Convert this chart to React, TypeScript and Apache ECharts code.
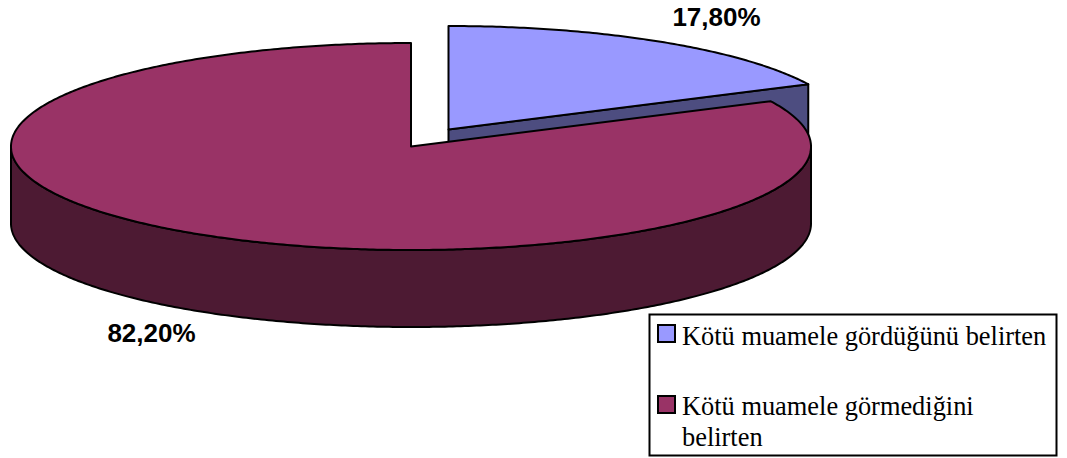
import React, { useEffect, useRef } from "react";
import * as echarts from "echarts";

const sliceNames = ["Kötü muamele gördüğünü belirten", "Kötü muamele görmediğini\nbelirten"];
const sliceValues = [17.8, 82.2];
const sliceLabels = ["17,80%", "82,20%"];
const topColors = ["#9999FF", "#993366"];
const sideColors = ["#4D4D80", "#4D1A33"];

const CX = 411, CY = 146.5, RX = 400, RY = 103.5, DEPTH = 77;
const OFFSETS = [[37.5, -17], [0, 0]];
const LABEL_POS = [[716.5, 17], [151.5, 333]];
const TOTAL = sliceValues.reduce((a, b) => a + b, 0);

// Angles are measured clockwise from the top of the pie.
function rim(cx: number, cy: number, from: number, to: number) {
  const pts: number[][] = [];
  const n = Math.max(2, Math.ceil(Math.abs(to - from) / 0.01));
  for (let i = 0; i <= n; i++) {
    const t = from + ((to - from) * i) / n;
    pts.push([cx + RX * Math.sin(t), cy - RY * Math.cos(t)]);
  }
  return pts;
}

function renderItem(params: any, api: any) {
  const i = params.dataIndex;
  let before = 0;
  for (let k = 0; k < i; k++) before += sliceValues[k];
  const start = (before / TOTAL) * Math.PI * 2;
  const end = ((before + api.value(0)) / TOTAL) * Math.PI * 2;
  const cx = CX + OFFSETS[i][0];
  const cy = CY + OFFSETS[i][1];
  const line = { stroke: "#000", lineWidth: 2, lineJoin: "round" };
  const children: any[] = [];

  // Cut face that shows in front of the slice (only where it faces the viewer).
  if (end < Math.PI / 2 + 0.001) {
    const e = rim(cx, cy, end, end)[0];
    children.push({
      type: "polygon",
      shape: { points: [[cx, cy], e, [e[0], e[1] + DEPTH], [cx, cy + DEPTH]] },
      style: { fill: sideColors[i], ...line },
    });
  }
  // Front wall: the part of the rim between the right and left extremes.
  const a = Math.max(start, Math.PI / 2);
  const b = Math.min(end, (Math.PI * 3) / 2);
  if (b > a) {
    const top = rim(cx, cy, a, b);
    const bottom = top.map((p) => [p[0], p[1] + DEPTH]).reverse();
    children.push({
      type: "polygon",
      shape: { points: [...top, ...bottom] },
      style: { fill: sideColors[i], ...line },
    });
  }
  // Top face.
  children.push({
    type: "polygon",
    shape: { points: [[cx, cy], ...rim(cx, cy, start, end)] },
    style: { fill: topColors[i], ...line },
  });
  return { type: "group", children };
}

export default function App() {
  const ref = useRef<HTMLDivElement>(null);
  useEffect(() => {
    const chart = echarts.init(ref.current!, null, { renderer: "svg" });
    const legendFont = '26.4px "Liberation Serif"';
    const legendSwatches = [325, 396];
    const legendTextTops = [320, 390];
    chart.setOption({
      animation: false,
      backgroundColor: "#fff",
      series: [
        {
          type: "custom",
          coordinateSystem: "none",
          renderItem,
          silent: true,
          clip: false,
          data: sliceValues.map((v, i) => ({ name: sliceNames[i], value: [v] })),
        },
      ],
      graphic: [
        ...sliceLabels.map((t, i) => ({
          type: "text",
          x: LABEL_POS[i][0],
          y: LABEL_POS[i][1],
          style: {
            text: t,
            font: 'bold 26px "Liberation Sans"',
            fill: "#000",
            align: "center",
            verticalAlign: "middle",
          },
        })),
        {
          type: "rect",
          shape: { x: 649.5, y: 314.5, width: 407, height: 141 },
          style: { fill: "#fff", stroke: "#000", lineWidth: 2 },
        },
        ...sliceNames.flatMap((name, i) => [
          {
            type: "rect",
            shape: { x: 658, y: legendSwatches[i], width: 17, height: 17 },
            style: { fill: topColors[i], stroke: "#000", lineWidth: 2 },
          },
          {
            type: "text",
            x: 682,
            y: legendTextTops[i],
            style: { text: name, font: legendFont, fill: "#000", lineHeight: 31 },
          },
        ]),
      ],
    });
    return () => chart.dispose();
  }, []);
  return (
    <div
      ref={ref}
      style={{ position: "absolute", left: 0, top: 0, width: 1067, height: 458 }}
    />
  );
}
